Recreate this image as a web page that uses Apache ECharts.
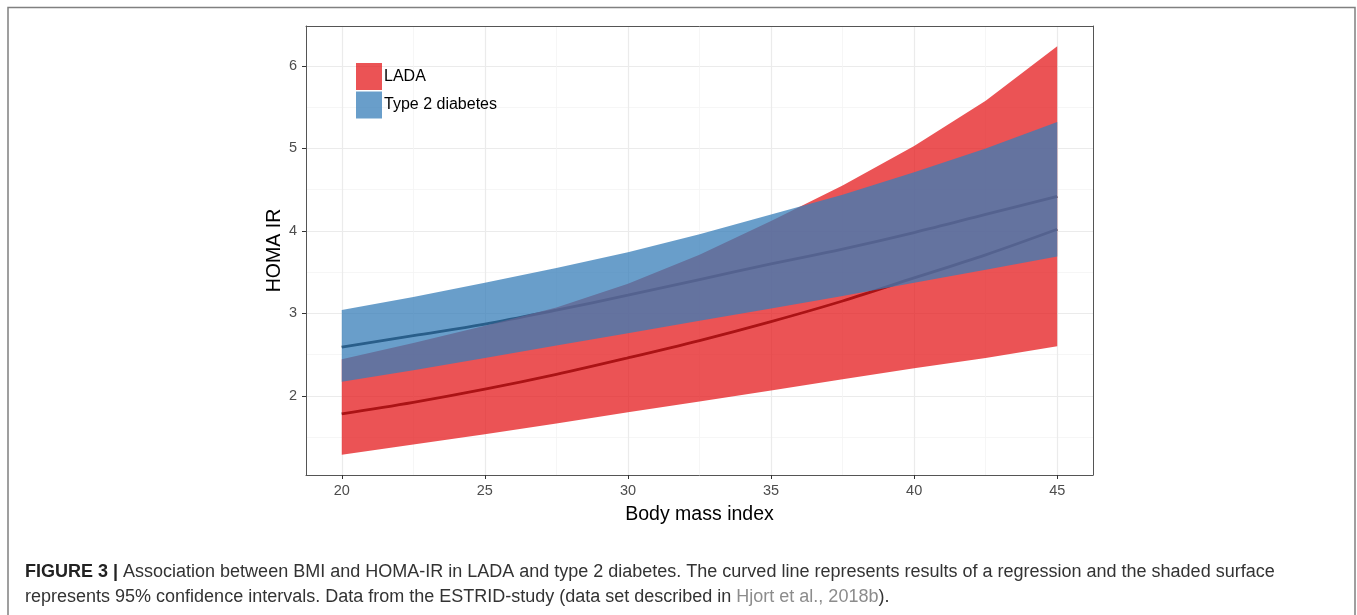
<!DOCTYPE html>
<html><head><meta charset="utf-8">
<script src="https://cdn.jsdelivr.net/npm/echarts@6/dist/echarts.min.js"></script>
<style>html,body{margin:0;padding:0;background:#fff}#c{width:1357px;height:615px}</style>
</head><body><div id="c"></div>
<script>
// ---- data ----
const bmi       = [20, 22.5, 25, 27.5, 30, 32.5, 35, 37.5, 40, 42.5, 45];
const ladaFit   = [1.78, 1.92, 2.08, 2.26, 2.46, 2.67, 2.90, 3.15, 3.43, 3.71, 4.02];
const ladaLower = [1.285, 1.41, 1.535, 1.665, 1.80, 1.93, 2.065, 2.20, 2.335, 2.46, 2.60];
const ladaUpper = [2.445, 2.64, 2.85, 3.07, 3.36, 3.71, 4.12, 4.55, 5.03, 5.58, 6.24];
const t2dFit    = [2.59, 2.73, 2.87, 3.04, 3.22, 3.41, 3.60, 3.78, 3.98, 4.20, 4.42];
const t2dLower  = [2.17, 2.31, 2.46, 2.61, 2.76, 2.91, 3.06, 3.21, 3.37, 3.53, 3.69];
const t2dUpper  = [3.04, 3.20, 3.37, 3.55, 3.74, 3.96, 4.20, 4.44, 4.71, 5.00, 5.32];
const xTicks = [20, 25, 30, 35, 40, 45];
const xMinor = [22.5, 27.5, 32.5, 37.5, 42.5];
const yTicks = [2, 3, 4, 5, 6];
const yMinor = [1.5, 2.5, 3.5, 4.5, 5.5];
const seriesNames = ['LADA', 'Type 2 diabetes'];

const FONT = "'Liberation Sans', Arial, Helvetica, sans-serif";
const RED_A = 'rgba(228,26,28,0.75)', BLUE_A = 'rgba(55,126,184,0.75)';
const pairs = arr => bmi.map((x, i) => [x, arr[i]]);
const triples = (lo, hi) => bmi.map((x, i) => [x, lo[i], hi[i]]);

// one polygon per ribbon, built through the axis scales (api.coord)
function ribbon(lo, hi, fill) {
  return function (params, api) {
    if (params.dataIndex !== 0) return null;
    const top = bmi.map((x, i) => api.coord([x, hi[i]]));
    const bot = bmi.map((x, i) => api.coord([x, lo[i]])).reverse();
    return {type: 'polygon', shape: {points: top.concat(bot)},
            style: {fill: fill, stroke: null, lineWidth: 0}};
  };
}

const chart = echarts.init(document.getElementById('c'), null, {renderer: 'canvas'});

const fitLine = {type: 'line', showSymbol: false, silent: true, smooth: 0.35, z: 1,
  xAxisIndex: 0, yAxisIndex: 0, lineStyle: {color: '#000', width: 2.8}, itemStyle: {color: '#000'}};

chart.setOption({
  animation: false,
  backgroundColor: '#fff',
  grid: {left: 306, right: 264, top: 26, bottom: 140, containLabel: false},
  xAxis: [{
    type: 'value', min: 18.75, max: 46.25, position: 'bottom',
    axisLine: {show: true, onZero: false, lineStyle: {color: '#555', width: 1}},
    axisTick: {show: true, customValues: xTicks, length: 4, lineStyle: {color: '#333'}},
    axisLabel: {customValues: xTicks, color: '#4D4D4D', fontSize: 14.5, margin: 8, fontFamily: FONT},
    splitLine: {show: true, lineStyle: {color: '#EBEBEB', width: 1.2}},
    name: 'Body mass index', nameLocation: 'middle', nameGap: 30, nameMoveOverlap: false,
    nameTextStyle: {fontSize: 19.5, color: '#000', fontFamily: FONT}
  }, {
    type: 'value', min: 18.75, max: 46.25, position: 'top',
    axisLine: {show: true, onZero: false, lineStyle: {color: '#555', width: 1}},
    axisTick: {show: false, customValues: xMinor},
    axisLabel: {show: false, customValues: xMinor},
    splitLine: {show: true, lineStyle: {color: '#F4F4F4', width: 0.8}}
  }],
  yAxis: [{
    type: 'value', min: 1.04, max: 6.485, position: 'left',
    axisLine: {show: true, onZero: false, lineStyle: {color: '#555', width: 1}},
    axisTick: {show: true, customValues: yTicks, length: 4, lineStyle: {color: '#333'}},
    axisLabel: {customValues: yTicks, color: '#4D4D4D', fontSize: 14.5, margin: 9, fontFamily: FONT},
    splitLine: {show: true, lineStyle: {color: '#EBEBEB', width: 1.2}},
    name: 'HOMA IR', nameLocation: 'middle', nameGap: 21.5, nameMoveOverlap: false,
    nameTextStyle: {fontSize: 19.5, color: '#000', fontFamily: FONT}
  }, {
    type: 'value', min: 1.04, max: 6.485, position: 'right',
    axisLine: {show: true, onZero: false, lineStyle: {color: '#555', width: 1}},
    axisTick: {show: false, customValues: yMinor},
    axisLabel: {show: false, customValues: yMinor},
    splitLine: {show: true, lineStyle: {color: '#F4F4F4', width: 0.8}}
  }],
  legend: {
    show: true, orient: 'vertical', left: 356, top: 63, padding: 0, icon: 'rect',
    itemWidth: 26, itemHeight: 27, itemGap: 1.5, selectedMode: false,
    itemStyle: {borderWidth: 0},
    textStyle: {fontSize: 16, color: '#000', fontFamily: FONT, padding: [6, 0, 0, -3]},
    data: [
      {name: seriesNames[0], itemStyle: {color: RED_A}},
      {name: seriesNames[1], itemStyle: {color: BLUE_A}}
    ]
  },
  series: [
    Object.assign({}, fitLine, {name: 'ladaFit', data: pairs(ladaFit)}),
    Object.assign({}, fitLine, {name: 't2dFit', data: pairs(t2dFit)}),
    {type: 'custom', name: seriesNames[0], silent: true, z: 3, xAxisIndex: 0, yAxisIndex: 0,
     data: triples(ladaLower, ladaUpper), encode: {x: 0, y: [1, 2]},
     itemStyle: {color: RED_A}, renderItem: ribbon(ladaLower, ladaUpper, RED_A)},
    {type: 'custom', name: seriesNames[1], silent: true, z: 4, xAxisIndex: 0, yAxisIndex: 0,
     data: triples(t2dLower, t2dUpper), encode: {x: 0, y: [1, 2]},
     itemStyle: {color: BLUE_A}, renderItem: ribbon(t2dLower, t2dUpper, BLUE_A)}
  ],
  graphic: [
    {type: 'rect', silent: true, z: -10,
     shape: {x: 8, y: 7.5, width: 1347, height: 700},
     style: {fill: 'none', stroke: '#808080', lineWidth: 1.5}},
    {type: 'text', silent: true, left: 25, top: 560,
     style: {
       text: '{b|FIGURE 3 |} Association between BMI and HOMA-IR in LADA and type 2 diabetes. The curved line represents results of a regression and the shaded surface\nrepresents 95% confidence intervals. Data from the ESTRID-study (data set described in {g|Hjort et al., 2018b}).',
       fontSize: 18, fontFamily: FONT, fill: '#333', lineHeight: 25,
       rich: {
         b: {fontWeight: 'bold', fontSize: 18, fontFamily: FONT, fill: '#222', lineHeight: 25},
         g: {fontSize: 18, fontFamily: FONT, fill: '#8c8c8c', lineHeight: 25}
       }
     }}
  ]
});
</script>
</body></html>
